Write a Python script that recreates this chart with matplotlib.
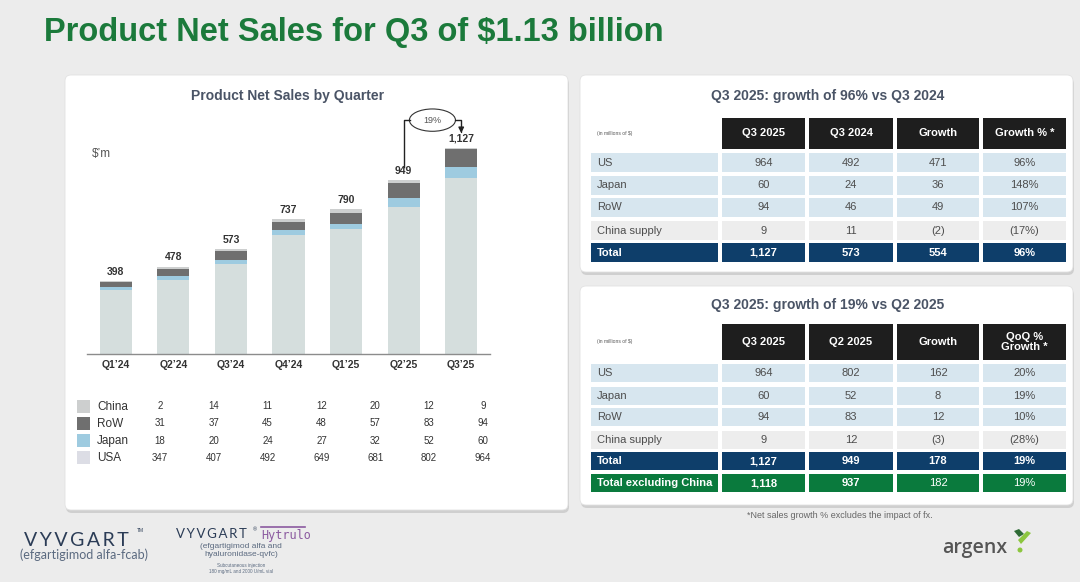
import numpy as np
import matplotlib.pyplot as plt
from matplotlib.patches import FancyBboxPatch, Rectangle, Ellipse, Polygon
from matplotlib import font_manager

# ---- data ----
quarters = ["Q1\u201924", "Q2\u201924", "Q3\u201924", "Q4\u201924", "Q1\u201925", "Q2\u201925", "Q3\u201925"]
usa = [347, 407, 492, 649, 681, 802, 964]
japan = [18, 20, 24, 27, 32, 52, 60]
row_sales = [31, 37, 45, 48, 57, 83, 94]
china = [2, 14, 11, 12, 20, 12, 9]
totals = [398, 478, 573, 737, 790, 949, 1127]
qoq_growth = "19%"

legend_names = ["China", "RoW", "Japan", "USA"]

t1_title = "Q3 2025: growth of 96% vs Q3 2024"
t1_header = ["Q3 2025", "Q3 2024", "Growth", "Growth % *"]
t1_rows = ["US", "Japan", "RoW", "China supply", "Total"]
t1_values = [["964", "492", "471", "96%"],
             ["60", "24", "36", "148%"],
             ["94", "46", "49", "107%"],
             ["9", "11", "(2)", "(17%)"],
             ["1,127", "573", "554", "96%"]]

t2_title = "Q3 2025: growth of 19% vs Q2 2025"
t2_header = ["Q3 2025", "Q2 2025", "Growth", "QoQ %\nGrowth *"]
t2_rows = ["US", "Japan", "RoW", "China supply", "Total", "Total excluding China"]
t2_values = [["964", "802", "162", "20%"],
             ["60", "52", "8", "19%"],
             ["94", "83", "12", "10%"],
             ["9", "12", "(3)", "(28%)"],
             ["1,127", "949", "178", "19%"],
             ["1,118", "937", "182", "19%"]]

# ---- style ----
names = {f.name for f in font_manager.fontManager.ttflist}
if "Liberation Sans Narrow" in names:
    title_font, title_size = "Liberation Sans Narrow", 28
else:
    title_font, title_size = "Liberation Sans", 23.5
plt.rcParams['font.family'] = ['Liberation Sans', 'DejaVu Sans']

c_usa, c_japan, c_row, c_china = '#d5dedd', '#9ecbe0', '#6f6f6f', '#cdcfcf'
slate = '#4a5466'

fig = plt.figure(figsize=(10.8, 5.82), dpi=100)
fig.patch.set_facecolor('#ececec')

bg = fig.add_axes([0, 0, 1, 1])
bg.set_xlim(0, 1080)
bg.set_ylim(582, 0)
bg.axis('off')


def panel(x0, y0, x1, y1):
    sh = FancyBboxPatch((x0 + 1, y0 + 3), x1 - x0, y1 - y0,
                        boxstyle="round,pad=0,rounding_size=6",
                        fc='#cfcfcf', ec='none', zorder=1)
    bg.add_patch(sh)
    p = FancyBboxPatch((x0, y0), x1 - x0, y1 - y0,
                       boxstyle="round,pad=0,rounding_size=6",
                       fc='white', ec='#e2e2e2', lw=0.6, zorder=2)
    bg.add_patch(p)


panel(65, 75, 568, 510)
panel(580, 75, 1073, 272)
panel(580, 286, 1073, 505)

# main title
bg.text(44, 33, "Product Net Sales for Q3 of $1.13 billion", fontsize=title_size,
        fontweight='bold', color='#1b7a3b', family=title_font, va='center', ha='left')

# ---- bar chart ----
bg.text(288, 96, "Product Net Sales by Quarter", fontsize=10, fontweight='bold',
        color=slate, ha='center', va='center', zorder=3)
bg.text(92, 154, "$\u2019m", fontsize=8.5, color='#555555', ha='left', va='center', zorder=3)

ax = fig.add_axes([87 / 1080, 1 - 354 / 582, (490 - 87) / 1080, (1400 * 0.183) / 582])
ax.set_facecolor('none')
x = np.arange(len(quarters))
w = 0.56
b1 = np.array(usa)
b2 = b1 + np.array(japan)
b3 = b2 + np.array(row_sales)
ax.bar(x, usa, w, color=c_usa)
ax.bar(x, japan, w, bottom=b1, color=c_japan)
ax.bar(x, row_sales, w, bottom=b2, color=c_row)
ax.bar(x, china, w, bottom=b3, color=c_china)
for i, t in enumerate(totals):
    ax.text(i, t + 22, f"{t:,}", ha='center', va='bottom', fontsize=7.5,
            fontweight='bold', color='#333333')
ax.set_xlim(-0.5, 6.5)
ax.set_ylim(0, 1400)
ax.set_xticks(x)
ax.set_xticklabels(quarters, fontsize=7.5, fontweight='bold', color='#333333')
ax.tick_params(axis='x', length=0, pad=4)
ax.set_yticks([])
for s in ['top', 'right', 'left']:
    ax.spines[s].set_visible(False)
ax.spines['bottom'].set_color('#8c8c8c')
ax.spines['bottom'].set_linewidth(1.0)

# growth bubble annotation Q2'25 -> Q3'25
ey = 1278
ax.plot([5, 5, 5.11], [totals[5] + 75, ey, ey], color='#222222', lw=1.0)
ax.add_patch(Ellipse((5.5, ey), 0.8, 122, fc='white', ec='#333333', lw=0.8))
ax.text(5.5, ey, qoq_growth, ha='center', va='center', fontsize=6.5, color='#555555')
ax.annotate("", xy=(6.0, totals[6] + 80), xytext=(5.9, ey),
            arrowprops=dict(arrowstyle='-|>', color='#222222', lw=1.0,
                            connectionstyle="angle,angleA=0,angleB=90,rad=0",
                            mutation_scale=8, shrinkA=0, shrinkB=0))

# data table under chart
leg_colors = [c_china, c_row, c_japan, '#dcdde5']
leg_values = [china, row_sales, japan, usa]
col_x = np.linspace(160, 483, len(quarters))
for r, (nm, col, vals) in enumerate(zip(legend_names, leg_colors, leg_values)):
    yy = 406 + r * 17.3
    bg.add_patch(Rectangle((77, yy - 6.5), 13, 13, fc=col, ec='none', zorder=3))
    bg.text(97, yy + 0.5, nm, fontsize=8.5, color='#333333', va='center', zorder=3)
    for cx, v in zip(col_x, vals):
        bg.text(cx, yy, str(v), fontsize=7, color='#333333', ha='center',
                va='center', zorder=3)


# ---- tables ----
cols = [(591, 718), (722, 805), (809, 893), (897, 979), (983, 1066)]


def draw_table(title, title_y, header, hy, hh, rows, values, row_tops, rh, styles):
    bg.text(828, title_y, title, fontsize=10, fontweight='bold', color=slate,
            ha='center', va='center', zorder=3)
    bg.text(597, hy + hh / 2, "(in millions of $)", fontsize=3.6, color='#555555',
            va='center', zorder=3)
    for (c0, c1), h in zip(cols[1:], header):
        bg.add_patch(Rectangle((c0, hy), c1 - c0, hh, fc='#1e1e1e', ec='none', zorder=3))
        bg.text((c0 + c1) / 2, hy + hh / 2, h, fontsize=8, fontweight='bold',
                color='white', ha='center', va='center', zorder=4, linespacing=1.1)
    for i, (lab, vals) in enumerate(zip(rows, values)):
        top = row_tops[i]
        fc, tc, bold = styles[i]
        cells = [lab] + vals
        for j, ((c0, c1), txt) in enumerate(zip(cols, cells)):
            bg.add_patch(Rectangle((c0, top), c1 - c0, rh, fc=fc, ec='none', zorder=3))
            wgt = 'bold' if bold[j] else 'normal'
            if j == 0:
                bg.text(c0 + 6, top + rh / 2, txt, fontsize=8, color=tc,
                        fontweight=wgt, va='center', ha='left', zorder=4)
            else:
                bg.text((c0 + c1) / 2, top + rh / 2, txt, fontsize=8, color=tc,
                        fontweight=wgt, va='center', ha='center', zorder=4)


blue_row = ('#d7e6ef', '#4d4d4d', [False] * 5)
gray_row = ('#ededed', '#4d4d4d', [False] * 5)
navy_row = ('#0e3e6a', 'white', [True] * 5)
green_row = ('#0a7a3d', 'white', [True, True, True, False, False])

draw_table(t1_title, 96, t1_header, 118, 31, t1_rows, t1_values,
           [153, 176, 198, 221, 243], 19,
           [blue_row, blue_row, blue_row, gray_row, navy_row])
draw_table(t2_title, 305, t2_header, 324, 36, t2_rows, t2_values,
           [364, 387, 408, 431, 452, 474], 18,
           [blue_row, blue_row, blue_row, gray_row, navy_row, green_row])

bg.text(840, 515, "*Net sales growth % excludes the impact of fx.", fontsize=6.5,
        color='#666666', ha='center', va='center')

# ---- logos ----
ts = "\u2009"
bg.text(24, 540, ts.join("VYVGART"), fontsize=14, color='#2b3c56', va='center',
        ha='left', family='Lato')
bg.text(137, 531, "TM", fontsize=3.5, color='#2b3c56', va='center')
bg.text(84, 555, "(efgartigimod alfa-fcab)", fontsize=9, color='#5b6a80',
        ha='center', va='center', family='Lato')

bg.text(176, 534, ts.join("VYVGART"), fontsize=9.5, color='#2b3c56', va='center',
        ha='left', family='Lato')
bg.text(253, 530, "\u00ae", fontsize=4, color='#2b3c56', va='center')
bg.text(261, 535, "Hytrulo", fontsize=8.5, color='#8b5aa0', va='center', ha='left',
        family='DejaVu Sans Mono')
bg.plot([261, 305], [527, 527], color='#8b5aa0', lw=1.2)
bg.text(241, 546, "(efgartigimod alfa and", fontsize=6, color='#5b6a80', ha='center', va='center')
bg.text(241, 555, "hyaluronidase-qvfc)", fontsize=6, color='#5b6a80', ha='center', va='center')
bg.text(241, 565, "Subcutaneous injection", fontsize=3.3, color='#5b6a80', ha='center', va='center')
bg.text(241, 571, "180 mg/mL and 2000 U/mL vial", fontsize=3.3, color='#5b6a80', ha='center', va='center')

bg.text(942, 548, "argenx", fontsize=14, color='#555555', va='center', ha='left',
        family='Open Sans', fontweight='semibold')
bg.add_patch(Polygon([[1014, 531], [1019, 529], [1024, 534], [1019, 537]],
                     closed=True, fc='#2e6b35', ec='none'))
bg.add_patch(Polygon([[1018, 540], [1027, 531], [1031, 533], [1021, 544]],
                     closed=True, fc='#8cc63f', ec='none'))
bg.add_patch(Ellipse((1020, 550), 5, 5, fc='#8cc63f', ec='none'))

fig.savefig('out.png', dpi=100, facecolor=fig.get_facecolor())
